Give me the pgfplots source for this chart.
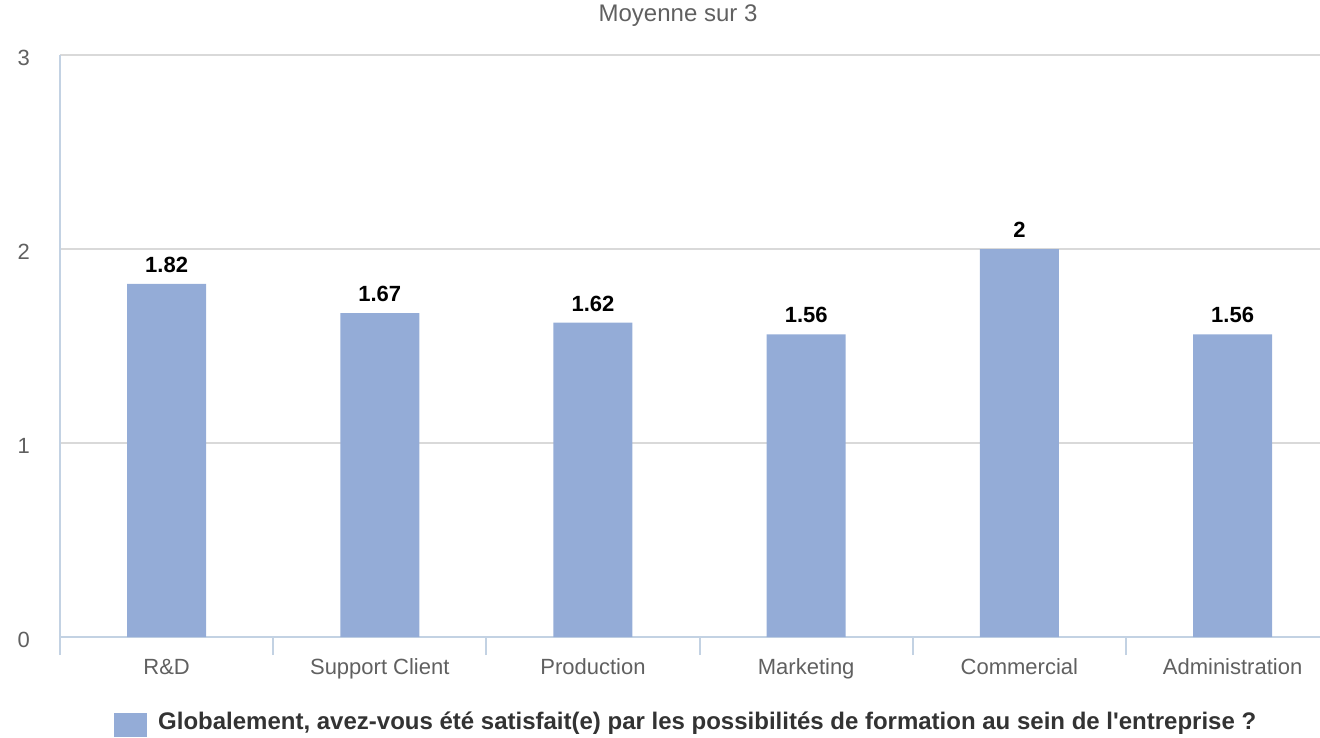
\documentclass[border=0pt]{standalone}
\usepackage{pgfplots}
\pgfplotsset{compat=1.18}
\usepackage{fontspec}
\setmainfont{Liberation Sans}
\definecolor{barc}{HTML}{94ACD7}
\definecolor{gridc}{HTML}{D9D9D9}
\definecolor{axc}{HTML}{C3D2E3}
\definecolor{tickc}{HTML}{606060}
\definecolor{legc}{HTML}{333333}
\begin{document}
\begin{tikzpicture}
\useasboundingbox (0,0) rectangle (1320pt,737pt);
\begin{axis}[
  at={(60pt,100pt)}, anchor=south west,
  width=1260pt, height=582pt, scale only axis,
  xmin=-0.5, xmax=5.41, ymin=0, ymax=3,
  /pgf/number format/assume math mode=true,
  axis x line*=bottom, axis y line*=left,
  axis line style={axc, line width=2pt},
  ytick={0,1,2,3}, ymajorgrids, grid style={gridc, line width=1.5pt},
  xtick={0,1,2,3,4,5},
  xticklabels={R\&D, Support Client, Production, Marketing, Commercial, Administration},
  major tick length=0pt,
  extra x ticks={-0.5,0.5,1.5,2.5,3.5,4.5},
  extra x tick labels={},
  extra x tick style={major tick length=18pt, tick align=outside, tick style={axc, line width=2pt}},
  ticklabel style={font=\fontsize{22}{26}\selectfont, text=tickc},
  yticklabel style={inner sep=0pt, xshift=-30pt, yshift=-3pt},
  xticklabel style={inner sep=0pt, text height=16pt, yshift=-21pt},
  title={Moyenne sur 3},
  title style={at={(0.4905,1)}, anchor=base, yshift=27pt, inner sep=0pt, font=\fontsize{24}{28}\selectfont, text=tickc},
  legend style={at={(0.04286,-0.1289)}, anchor=north west, draw=none, fill=none, inner sep=0pt,
    font=\bfseries\fontsize{24}{28}\selectfont, text=legc,
    nodes={inner sep=0pt, text height=17pt, text depth=5pt}, column sep=11pt},
  clip=false,
]
\addplot[ybar, bar width=79pt, fill=barc, draw=none,
  legend image code/.code={\fill[barc] (0pt,-14pt) rectangle (33pt,10pt);},
  nodes near coords,
  nodes near coords style={font=\bfseries\fontsize{22}{26}\selectfont, text=black, anchor=south, inner sep=0pt, yshift=11pt}]
  coordinates {(0,1.82) (1,1.67) (2,1.62) (3,1.56) (4,2) (5,1.56)};
\addlegendentry{Globalement, avez-vous été satisfait(e) par les possibilités de formation au sein de l\textquotesingle entreprise ?}
\end{axis}
\end{tikzpicture}
\end{document}
